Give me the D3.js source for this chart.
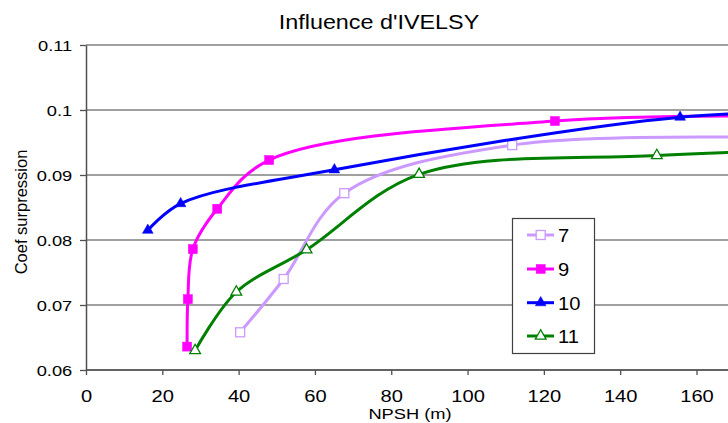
<!DOCTYPE html>
<html>
<head>
<meta charset="utf-8">
<script src="https://cdn.jsdelivr.net/npm/d3@7"></script>
<style>
  html, body { margin: 0; padding: 0; background: #fff; overflow: hidden; }
  text { font-family: "Liberation Sans", Arial, sans-serif; fill: #000; }
</style>
</head>
<body>
<svg id="chart" width="728" height="423"></svg>
<script>
// ---- Data ----
const seriesNames = ["7", "9", "10", "11"];
const npsh7  = [40.4, 51.8, 67.7, 111.7, 200];
const coef7  = [0.0658, 0.0740, 0.0872, 0.0946, 0.0955];
const npsh9  = [26.5, 26.7, 28.0, 34.4, 48.0, 122.9, 200];
const coef9  = [0.0636, 0.0709, 0.0786, 0.0848, 0.0923, 0.0983, 0.0990];
const npsh10 = [16.2, 24.8, 65.1, 155.7, 200];
const coef10 = [0.0815, 0.0856, 0.0908, 0.0989, 0.0997];
const npsh11 = [28.6, 39.4, 57.8, 87.3, 149.6, 200];
const coef11 = [0.0630, 0.0720, 0.0785, 0.0901, 0.0930, 0.0939];
const xTicks = [0, 20, 40, 60, 80, 100, 120, 140, 160];
const yTicks = [0.06, 0.07, 0.08, 0.09, 0.1, 0.11];
const chartTitle = "Influence d'IVELSY";
const xTitle = "NPSH (m)";
const yTitle = "Coef surpression";

const series = [
  { name: seriesNames[0], xs: npsh7,  ys: coef7,  color: "#CC99FF", shape: "square",   filled: false },
  { name: seriesNames[1], xs: npsh9,  ys: coef9,  color: "#FF00FF", shape: "square",   filled: true },
  { name: seriesNames[2], xs: npsh10, ys: coef10, color: "#0000FF", shape: "triangle", filled: true },
  { name: seriesNames[3], xs: npsh11, ys: coef11, color: "#008000", shape: "triangle", filled: false }
];

// ---- Layout ----
const svg = d3.select("#chart");
const mLeft = 86, mTop = 45, mBottom = 370;
const x = d3.scaleLinear().domain([0, 160]).range([mLeft, 696.5]);
const y = d3.scaleLinear().domain([0.06, 0.11]).range([mBottom, mTop]);
const xEnd = x(180);

// gridlines
svg.append("g").selectAll("line").data(yTicks).join("line")
  .attr("x1", mLeft).attr("x2", xEnd)
  .attr("y1", d => y(d)).attr("y2", d => y(d))
  .attr("stroke", "#808080").attr("stroke-width", 1.3);

// x axis
const gx = svg.append("g").attr("transform", `translate(0,${mBottom})`)
  .call(d3.axisBottom(x).tickValues(xTicks).tickSize(5).tickSizeOuter(0).tickFormat(d3.format("d")));
gx.select(".domain").attr("d", `M${mLeft},0H${xEnd}`).attr("stroke", "#505050").attr("stroke-width", 1.5);
gx.selectAll(".tick line").attr("stroke", "#505050").attr("stroke-width", 1.3);
gx.selectAll(".tick text")
  .attr("y", 32).attr("dy", 0)
  .attr("font-size", 16.5)
  .attr("font-family", "Liberation Sans, Arial, sans-serif")
  .attr("transform", "scale(1.22,1)");

// y axis
const gy = svg.append("g").attr("transform", `translate(${mLeft},0)`)
  .call(d3.axisLeft(y).tickValues(yTicks).tickSize(6).tickSizeOuter(0)
    .tickFormat(d => String(+d.toFixed(2))));
gy.select(".domain").attr("stroke", "#505050").attr("stroke-width", 1.5);
gy.selectAll(".tick line").attr("stroke", "#505050").attr("stroke-width", 1.3);
gy.selectAll(".tick text")
  .attr("x", -11.3).attr("dy", "0.37em")
  .attr("font-size", 15)
  .attr("font-family", "Liberation Sans, Arial, sans-serif")
  .attr("transform", "scale(1.22,1)");

// titles
svg.append("text")
  .attr("transform", "translate(379,29) scale(1.14,1)")
  .attr("text-anchor", "middle").attr("font-size", 20.5).text(chartTitle);
svg.append("text")
  .attr("transform", "translate(410,419.3) scale(1.18,1)")
  .attr("text-anchor", "middle").attr("font-size", 15.5).text(xTitle);
svg.append("text")
  .attr("transform", "translate(27,212) rotate(-90)")
  .attr("text-anchor", "middle").attr("font-size", 16.5).text(yTitle);

// ---- Series ----
const line = d3.line().curve(d3.curveCatmullRom.alpha(0.5))
  .x(d => x(d[0])).y(d => y(d[1]));

const triSym = d3.symbol().type(d3.symbolTriangle).size(50);
function drawMarker(g, s, cx, cy) {
  const fill = s.filled ? s.color : "#fff";
  if (s.shape === "square") {
    const h = 4.5;
    g.append("rect").attr("x", cx - h).attr("y", cy - h)
      .attr("width", 2 * h).attr("height", 2 * h)
      .attr("fill", fill).attr("stroke", s.color).attr("stroke-width", s.filled ? 0.5 : 1.3);
  } else {
    g.append("path").attr("d", triSym())
      .attr("transform", `translate(${cx},${cy})`)
      .attr("fill", fill).attr("stroke", s.color).attr("stroke-width", s.filled ? 0.5 : 1.3);
  }
}

series.forEach(s => {
  const pts = s.xs.map((v, i) => [v, s.ys[i]]);
  svg.append("path").datum(pts)
    .attr("d", line).attr("fill", "none")
    .attr("stroke", s.color).attr("stroke-width", 3)
    .attr("stroke-linejoin", "round");
  const g = svg.append("g");
  pts.forEach(p => drawMarker(g, s, x(p[0]), y(p[1])));
});

// ---- Legend ----
const lg = svg.append("g");
lg.append("rect").attr("x", 512.5).attr("y", 218.5).attr("width", 82).attr("height", 135)
  .attr("fill", "#fff").attr("stroke", "#404040").attr("stroke-width", 1.2);
const rowY = [235, 269, 302.7, 336];
series.forEach((s, i) => {
  const cy = rowY[i];
  lg.append("line").attr("x1", 527).attr("x2", 554).attr("y1", cy).attr("y2", cy)
    .attr("stroke", s.color).attr("stroke-width", 3);
  drawMarker(lg, s, 540.7, cy);
  lg.append("text").attr("transform", `translate(558,${cy + 7}) scale(1.12,1)`)
    .attr("font-size", 18).text(s.name);
});
</script>
</body>
</html>
